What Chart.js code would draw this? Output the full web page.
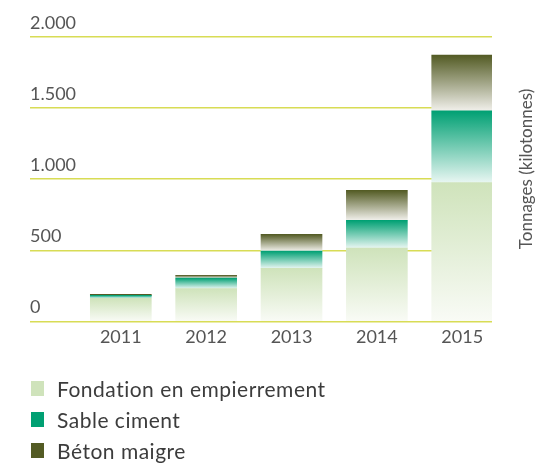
<!DOCTYPE html>
<html>
<head>
<meta charset="utf-8">
<script src="https://cdn.jsdelivr.net/npm/chart.js@4.4.1/dist/chart.umd.min.js"></script>
<style>
  body { margin: 0; background: #fff; overflow: hidden; }
  #wrap { position: relative; width: 541px; height: 468px; }
  #legend { position: absolute; left: 31px; top: 373px; font-family: Lato, sans-serif; font-size: 21px; letter-spacing: 0.5px; color: #3c3c3c; }
  #legend div { height: 31px; display: flex; align-items: center; }
  #legend span.box { display: inline-block; width: 13px; height: 15px; margin-right: 13px; }
</style>
</head>
<body>
<div id="wrap">
  <canvas id="myChart"></canvas>
  <div id="legend"></div>
</div>
<script>
const years = [2011, 2012, 2013, 2014, 2015];
const fondation = [162, 230, 373, 516, 977];
const sable = [21, 75, 122, 195, 504];
const beton = [7, 19, 118, 211, 392];
const yTicks = [0, 500, 1000, 1500, 2000];
const seriesNames = ['Fondation en empierrement', 'Sable ciment', 'Béton maigre'];
const yTitle = 'Tonnages (kilotonnes)';

const series = [fondation, sable, beton];
// top colour / faded bottom colour of each segment
const topColors = ['#cfe3bb', '#00a073', '#535b24'];
const bottomColors = ['#f9fbf6', '#e8f6f2', '#f1f0eb'];

const segmentGradient = (ctx) => {
    const chart = ctx.chart;
    const di = ctx.datasetIndex;
    if (!chart.chartArea || ctx.dataIndex === undefined) return topColors[di];
    const i = ctx.dataIndex;
    let base = 0;
    for (let k = 0; k < di; k++) base += series[k][i];
    const top = base + series[di][i];
    const yScale = chart.scales.y;
    const y0 = yScale.getPixelForValue(top);
    const y1 = yScale.getPixelForValue(base);
    if (!isFinite(y0) || !isFinite(y1) || y1 - y0 < 1) return topColors[di];
    const g = chart.ctx.createLinearGradient(0, y0, 0, y1);
    g.addColorStop(0, topColors[di]);
    g.addColorStop(1, bottomColors[di]);
    return g;
};

const formatThousands = (v) => String(v).replace(/\B(?=(\d{3})+(?!\d))/g, '.');

const titlePlugin = {
    id: 'sideTitle',
    afterDraw: (chart) => {
        const c = chart.ctx;
        c.save();
        c.translate(527, 169);
        c.rotate(-Math.PI / 2);
        c.font = "17px Lato";
        c.fillStyle = '#555555';
        c.textAlign = 'center';
        c.textBaseline = 'middle';
        c.fillText(yTitle, 0, 0);
        c.restore();
    }
};

var ctx = document.getElementById('myChart');
var myChart = new Chart(ctx, {
    type: 'bar',
    plugins: [titlePlugin],
    data: {
        datasets: series.map((s, di) => ({
            label: seriesNames[di],
            data: years.map((yr, i) => ({ x: yr, y: s[i] })),
            backgroundColor: segmentGradient,
            borderWidth: 0,
            barThickness: 61
        }))
    },
    options: {
        responsive: true,
        maintainAspectRatio: false,
        animation: false,
        layout: { padding: { top: 37, left: 30, right: 49, bottom: 115 } },
        plugins: {
            legend: { display: false },
            tooltip: { enabled: false }
        },
        scales: {
            x: {
                type: 'linear',
                stacked: true,
                offset: false,
                min: 2009.936,
                max: 2015.349,
                afterBuildTicks: (scale) => { scale.ticks = years.map(v => ({ value: v })); },
                grid: { display: false, drawTicks: false },
                border: { display: false },
                ticks: {
                    padding: 5,
                    color: '#555555',
                    font: { family: 'Lato', size: 18 },
                    callback: (v) => String(v)
                }
            },
            y: {
                stacked: true,
                min: 0,
                max: 2000,
                z: 1,
                afterBuildTicks: (scale) => { scale.ticks = yTicks.map(v => ({ value: v })); },
                grid: { color: '#d8dc55', lineWidth: 1.5, drawTicks: false },
                border: { display: false },
                ticks: {
                    mirror: true,
                    padding: 0,
                    labelOffset: -14,
                    color: '#555555',
                    font: { family: 'Lato', size: 18 },
                    callback: (v) => formatThousands(v)
                }
            }
        }
    }
});

// html legend, one item per line
const legendEl = document.getElementById('legend');
seriesNames.forEach((name, di) => {
    const row = document.createElement('div');
    const box = document.createElement('span');
    box.className = 'box';
    box.style.background = topColors[di];
    row.appendChild(box);
    row.appendChild(document.createTextNode(name));
    legendEl.appendChild(row);
});
</script>
</body>
</html>
